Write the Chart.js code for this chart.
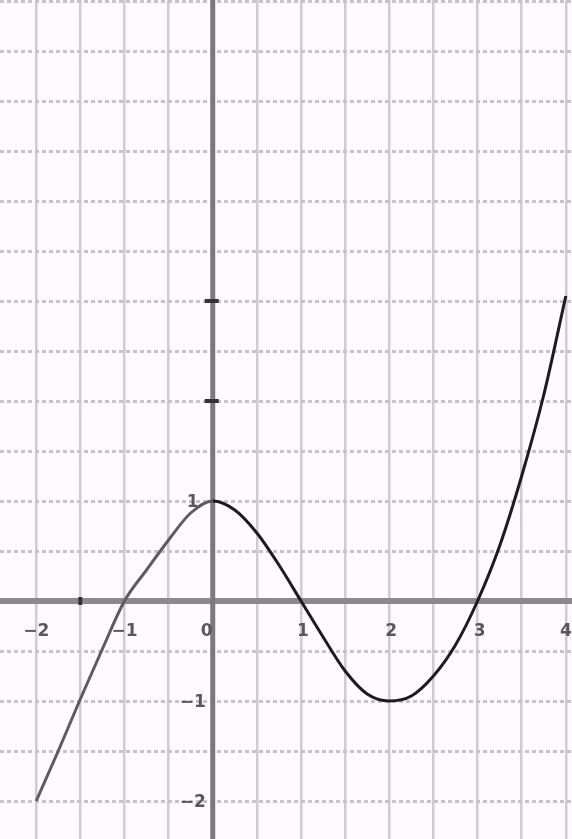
<!DOCTYPE html>
<html>
<head>
<meta charset="utf-8">
<script src="https://cdn.jsdelivr.net/npm/chart.js@4.4.1/dist/chart.umd.min.js"></script>
<style>
  html, body { margin: 0; padding: 0; background: #fefafd; }
  #wrap { width: 572px; height: 839px; }
</style>
</head>
<body>
<div id="wrap"><canvas id="graph"></canvas></div>
<script>
'use strict';

// curve, quarter-unit steps
var xs = [-2, -1.75, -1.5, -1.25, -1, -0.75, -0.5, -0.25, 0, 0.25, 0.5, 0.75, 1,
          1.25, 1.5, 1.75, 2, 2.25, 2.5, 2.75, 3, 3.25, 3.5, 3.75, 4];
var ys = [-2, -1.5, -0.98, -0.48, 0, 0.31, 0.61, 0.88, 1, 0.91, 0.68, 0.36, 0,
          -0.36, -0.7, -0.93, -1, -0.95, -0.75, -0.44, 0, 0.55, 1.25, 2.06, 3.05];

var gridX = [-2, -1.5, -1, -0.5, 0, 0.5, 1, 1.5, 2, 2.5, 3, 3.5, 4];
var gridY = [-2, -1.5, -1, -0.5, 0, 0.5, 1, 1.5, 2, 2.5, 3, 3.5, 4, 4.5, 5, 5.5, 6];

var xLabels = [-2, -1, 0, 1, 2, 3, 4];
var yLabels = [1, -1, -2];
var yTicks = [2, 3];

var points = xs.map(function(x, i) { return { x: x, y: ys[i] }; });

var axesPlugin = {
    id: 'axes',
    beforeDatasetsDraw: function(chart) {
        var ctx = chart.ctx;
        var sx = chart.scales.x, sy = chart.scales.y;
        var ox = sx.getPixelForValue(0), oy = sy.getPixelForValue(0);
        var area = chart.chartArea;
        ctx.save();
        // x axis
        ctx.strokeStyle = '#8d888c';
        ctx.lineWidth = 6;
        ctx.beginPath();
        ctx.moveTo(area.left, oy);
        ctx.lineTo(area.right, oy);
        ctx.stroke();
        // y axis
        ctx.strokeStyle = '#7c787b';
        ctx.lineWidth = 5;
        ctx.beginPath();
        ctx.moveTo(ox, area.top);
        ctx.lineTo(ox, area.bottom);
        ctx.stroke();
        // small ticks on y axis
        ctx.strokeStyle = '#333';
        ctx.lineWidth = 4;
        yTicks.forEach(function(v) {
            var p = sy.getPixelForValue(v);
            ctx.beginPath();
            ctx.moveTo(ox - 8, p);
            ctx.lineTo(ox + 6, p);
            ctx.stroke();
        });
        ctx.beginPath();
        ctx.moveTo(sx.getPixelForValue(-1.5), oy - 4);
        ctx.lineTo(sx.getPixelForValue(-1.5), oy + 4);
        ctx.stroke();

        ctx.fillStyle = '#5a565c';
        ctx.font = 'bold 17px "DejaVu Sans"';
        ctx.textAlign = 'center';
        ctx.textBaseline = 'middle';
        xLabels.forEach(function(v) {
            var t = v < 0 ? '\u2212' + (-v) : String(v);
            var px = sx.getPixelForValue(v);
            if (v === 0) px -= 8;
            if (v === 4) px -= 2;
            ctx.fillText(t, px + (v < 0 ? 0 : 2), oy + 31);
        });
        yLabels.forEach(function(v) {
            var t = v < 0 ? '\u2212' + (-v) : String(v);
            ctx.fillText(t, ox - 20, sy.getPixelForValue(v) + 2);
        });
        ctx.restore();
    }
};

var ctx = document.getElementById('graph').getContext('2d');
var chart = new Chart(ctx, {
    type: 'scatter',
    data: {
        datasets: [{
            data: points,
            showLine: true,
            borderColor: '#2a2729',
            borderWidth: 3,
            pointRadius: 0,
            cubicInterpolationMode: 'monotone',
            segment: {
                // left branch is printed lighter than the rest
                borderColor: function(c) { return c.p0.parsed.x < 0 ? '#5e5a5d' : '#1e1b1d'; }
            }
        }]
    },
    options: {
        responsive: true,
        maintainAspectRatio: false,
        animation: false,
        events: [],
        layout: { padding: 0 },
        plugins: { legend: { display: false }, tooltip: { enabled: false } },
        scales: {
            x: {
                type: 'linear',
                min: -2.41,
                max: 4.07,
                afterBuildTicks: function(axis) {
                    axis.ticks = gridX.map(function(v) { return { value: v }; });
                },
                ticks: { display: false },
                grid: { color: '#d6c6d6', lineWidth: 2.5, drawTicks: false },
                border: { display: false }
            },
            y: {
                type: 'linear',
                min: -2.38,
                max: 6.01,
                afterBuildTicks: function(axis) {
                    axis.ticks = gridY.map(function(v) { return { value: v }; });
                },
                ticks: { display: false },
                grid: { color: '#c9c1c8', lineWidth: 3, drawTicks: false },
                border: { display: false, dash: [4, 3] }
            }
        }
    },
    plugins: [axesPlugin]
});
</script>
</body>
</html>
